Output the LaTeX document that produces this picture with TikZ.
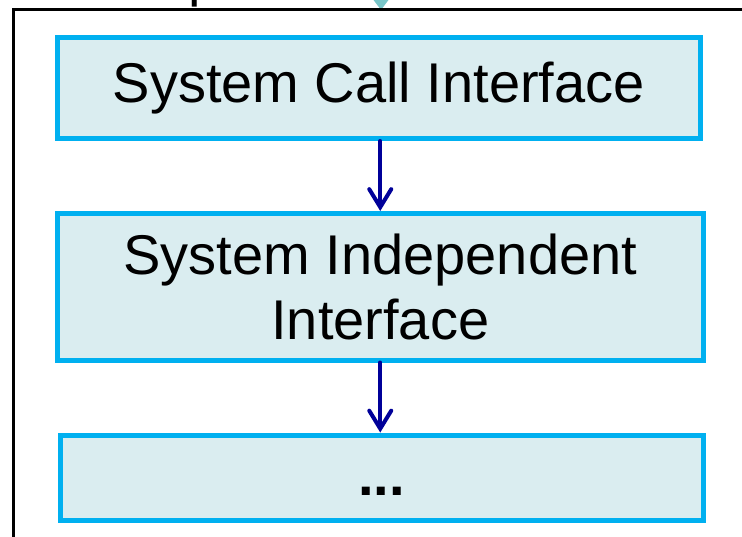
\documentclass[tikz,border=0pt]{standalone}
\usepackage{fontspec}
\setmainfont{Liberation Sans}
\usetikzlibrary{arrows.meta}
\definecolor{boxfill}{HTML}{DAEDF0}
\definecolor{boxline}{HTML}{00B0F0}
\definecolor{arrblue}{HTML}{000099}
\definecolor{tealtip}{HTML}{78C5C8}
\tikzset{
  layerbox/.style={draw=boxline, fill=boxfill, line width=5pt, rectangle, inner sep=0pt,
    align=center, font=\fontsize{56}{65}\selectfont},
  flowarrow/.style={draw=arrblue, line width=4pt, line cap=round,
    -{Straight Barb[length=18pt,width=22pt,line cap=round]}},
}
\begin{document}
\begin{tikzpicture}[x=1pt,y=-1pt]
\useasboundingbox (0,0) rectangle (742,536);
% clipped fragments above the frame
\node[anchor=base west, inner sep=0pt, font=\fontsize{56}{65}\selectfont] (ptxt) at (188,-5) {p};
\coordinate (tealtop) at (381,-30);
\coordinate (tealend) at (381,10);
\draw[draw=tealtip, line width=4pt, -{Triangle[length=14pt,width=20pt]}, tealtip] (tealtop) -- (tealend);
% outer frame (clipped)
\coordinate (fbl) at (13.5,560);
\coordinate (ftl) at (13.5,9.5);
\coordinate (ftr) at (760,9.5);
\draw[line width=3pt] (fbl) -- (ftl) -- (ftr);
% boxes
\node[layerbox, minimum width=642.5pt, minimum height=101.5pt] (b1) at (378.75,87.75) {System Call Interface};
\node[layerbox, minimum width=645.5pt, minimum height=146.5pt] (b2) at (380.25,286.75) {System Independent\\Interface};
\node[layerbox, minimum width=643pt, minimum height=85pt, text height=38pt, text depth=2pt] (b3) at (381.5,477.5) {\bfseries ...};
% arrows
\draw[flowarrow] (b2.north |- b1.south) -- (b2.north);
\draw[flowarrow] (b2.south) -- (b2.south |- b3.north);
\end{tikzpicture}
\end{document}
